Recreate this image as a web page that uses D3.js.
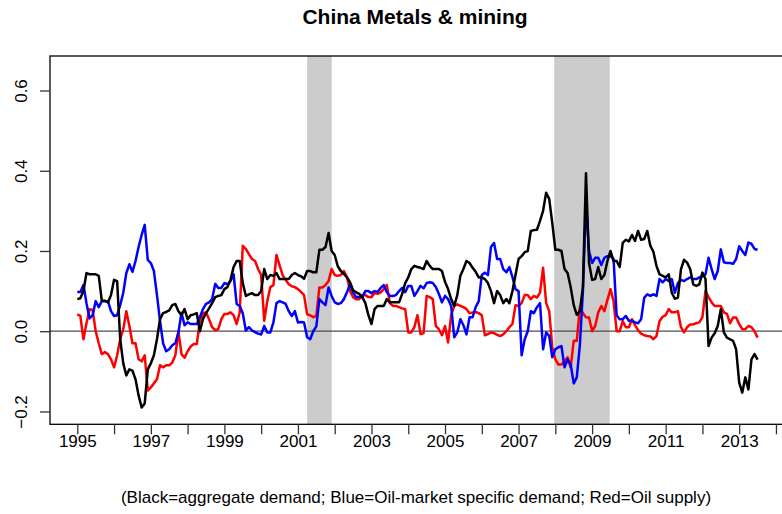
<!DOCTYPE html>
<html>
<head>
<meta charset="utf-8">
<script src="https://cdn.jsdelivr.net/npm/d3@7"></script>
<style>
  body { margin: 0; background: #fff; }
  text { font-family: "Liberation Sans", Arial, sans-serif; }
</style>
</head>
<body>
<svg id="chart"></svg>
<script>
// monthly series, Jan 1995 .. Jul 2013
var startYear = 1995;

var aggDemand = [
  0.08, 0.082, 0.10, 0.145, 0.142, 0.142, 0.142, 0.138, 0.076, 0.076,
  0.072, 0.09, 0.128, 0.125, -0.02, -0.08, -0.11, -0.095, -0.098, -0.12,
  -0.16, -0.19, -0.18, -0.095, -0.08, -0.06, -0.02, 0.03, 0.045, 0.048,
  0.052, 0.065, 0.068, 0.05, 0.04, 0.055, 0.03, 0.04, 0.042, 0.045,
  0.0, 0.03, 0.045, 0.057, 0.07, 0.085, 0.088, 0.09, 0.105, 0.11,
  0.128, 0.16, 0.175, 0.175, 0.12, 0.088, 0.092, 0.095, 0.09, 0.09,
  0.1, 0.155, 0.13, 0.14, 0.138, 0.145, 0.13, 0.13, 0.13, 0.13,
  0.14, 0.145, 0.14, 0.137, 0.131, 0.15, 0.15, 0.147, 0.147, 0.203,
  0.203, 0.21, 0.245, 0.2, 0.19, 0.162, 0.15, 0.143, 0.134, 0.122,
  0.102, 0.097, 0.093, 0.085, 0.07, 0.04, 0.018, 0.055, 0.063, 0.063,
  0.063, 0.08, 0.072, 0.072, 0.072, 0.072, 0.093, 0.12, 0.134, 0.155,
  0.163, 0.16, 0.158, 0.155, 0.175, 0.163, 0.155, 0.155, 0.155, 0.15,
  0.123, 0.105, 0.08, 0.063, 0.09, 0.138, 0.155, 0.175, 0.17, 0.158,
  0.148, 0.134, 0.134, 0.13, 0.12, 0.10, 0.07, 0.10, 0.09, 0.07,
  0.08, 0.07, 0.10, 0.14, 0.18, 0.187, 0.197, 0.20, 0.25, 0.252,
  0.253, 0.275, 0.3, 0.345, 0.33, 0.27, 0.203, 0.203, 0.2, 0.155,
  0.145, 0.11, 0.065, 0.041, 0.05, 0.11, 0.394, 0.17, 0.128, 0.13,
  0.16, 0.13, 0.14, 0.175, 0.2, 0.175, 0.175, 0.16, 0.22, 0.228,
  0.224, 0.24, 0.225, 0.25, 0.228, 0.23, 0.25, 0.213, 0.198, 0.163,
  0.142, 0.138, 0.134, 0.142, 0.096, 0.081, 0.084, 0.155, 0.178, 0.171,
  0.155, 0.117, 0.113, 0.117, 0.146, 0.13, -0.037, -0.016, -0.005, 0.013,
  0.055, -0.003, -0.016, -0.02, -0.024, -0.045, -0.128, -0.153, -0.115, -0.145,
  -0.07, -0.057, -0.071
];

var oilDemand = [
  0.098, 0.098, 0.115, 0.07, 0.032, 0.04, 0.075, 0.06, 0.075, 0.075,
  0.075, 0.05, 0.038, 0.04, 0.065, 0.096, 0.145, 0.167, 0.148, 0.175,
  0.21, 0.24, 0.265, 0.178, 0.17, 0.15, 0.09, 0.025, -0.03, -0.05,
  -0.045, -0.035, -0.03, -0.003, 0.046, 0.015, 0.022, 0.018, 0.018, 0.018,
  0.035, 0.055, 0.068, 0.072, 0.08, 0.118, 0.108, 0.108, 0.12, 0.117,
  0.125, 0.142, 0.068, 0.063, 0.045, 0.002, 0.01, 0.002, -0.002, -0.006,
  -0.008, 0.013, -0.003, -0.003, 0.022, 0.07, 0.075, 0.072, 0.068, 0.05,
  0.038, 0.05, 0.022, 0.023, 0.022, -0.015, -0.02, 0.0, 0.012, 0.08,
  0.072, 0.065, 0.109, 0.088, 0.072, 0.068, 0.07, 0.08, 0.097, 0.117,
  0.097, 0.085, 0.085, 0.085, 0.1, 0.1, 0.095, 0.1, 0.098, 0.108,
  0.115, 0.097, 0.088, 0.088, 0.09, 0.1, 0.108, 0.097, 0.113, 0.113,
  0.088, 0.1, 0.113, 0.107, 0.12, 0.122, 0.12, 0.11, 0.093, 0.072,
  0.088, 0.08, 0.063, -0.015, -0.003, 0.03, 0.015, -0.008, 0.035, 0.035,
  0.06, 0.075, 0.14, 0.146, 0.14, 0.21, 0.22, 0.18, 0.18, 0.155,
  0.147, 0.16, 0.135, 0.105, 0.1, -0.06, -0.02, 0.0, 0.05, 0.045,
  0.06, 0.07, -0.045, -0.003, -0.012, -0.065, -0.045, -0.04, -0.037, -0.09,
  -0.07, -0.083, -0.13, -0.115, -0.035, 0.1, 0.32, 0.2, 0.17, 0.183,
  0.183, 0.165, 0.183, 0.187, 0.187, 0.18, 0.04, 0.03, 0.03, 0.038,
  0.026, 0.026, 0.022, 0.02, 0.03, 0.083, 0.092, 0.088, 0.092, 0.088,
  0.13, 0.122, 0.13, 0.125, 0.13, 0.096, 0.12, 0.128, 0.125, 0.13,
  0.134, 0.13, 0.13, 0.134, 0.137, 0.142, 0.183, 0.155, 0.13, 0.15,
  0.204, 0.172, 0.17, 0.17, 0.168, 0.18, 0.212, 0.2, 0.19, 0.221,
  0.218, 0.205, 0.203
];

var oilSupply = [
  0.042, 0.038, -0.02, 0.02, 0.055, 0.053, 0.0, -0.03, -0.057, -0.052,
  -0.057, -0.07, -0.09, -0.06, -0.02, 0.005, 0.05, 0.013, -0.03, -0.03,
  -0.07, -0.075, -0.06, -0.148, -0.14, -0.13, -0.12, -0.085, -0.09, -0.085,
  -0.085, -0.078, -0.06, 0.0, -0.057, -0.066, -0.05, -0.038, -0.032, -0.032,
  0.026, 0.045, 0.047, 0.03, 0.01, 0.003, 0.005, 0.03, 0.043, 0.043,
  0.047, 0.04, 0.018, 0.047, 0.213, 0.205, 0.192, 0.18, 0.175, 0.155,
  0.14, 0.026, 0.075, 0.11, 0.115, 0.19, 0.165, 0.14, 0.128, 0.117,
  0.112, 0.11, 0.105, 0.098, 0.09, 0.042, 0.04, 0.035, 0.038, 0.109,
  0.109, 0.115, 0.125, 0.155, 0.14, 0.138, 0.14, 0.15, 0.135, 0.1,
  0.085, 0.08, 0.08, 0.09, 0.09, 0.085, 0.085, 0.095, 0.093, 0.097,
  0.105, 0.115, 0.07, 0.063, 0.063, 0.06, 0.057, 0.055, -0.003, -0.003,
  0.01, 0.04, -0.007, -0.005, 0.088, 0.085, 0.08, 0.013, 0.005, -0.01,
  0.013, -0.028, 0.04, 0.063, 0.067, 0.063, 0.06, 0.055, 0.045, 0.047,
  0.048, 0.045, 0.04, -0.01, -0.007, -0.003, -0.005, -0.009, -0.012, -0.008,
  0.0, 0.01, 0.018, 0.065, 0.063, 0.07, 0.09, 0.09, 0.08, 0.088,
  0.084, 0.096, 0.158, 0.07, 0.05, -0.04, -0.07, -0.083, -0.083, -0.075,
  -0.065, -0.09, -0.024, -0.024, 0.06, 0.045, 0.035, 0.034, 0.0, 0.013,
  0.047, 0.063, 0.05, 0.078, 0.105, 0.075, 0.0, 0.0, 0.025, 0.01,
  0.01, 0.03, 0.015, 0.002, -0.006, -0.01, -0.012, -0.013, -0.02, -0.012,
  0.025, 0.036, 0.04, 0.055, 0.047, 0.047, 0.05, 0.01, -0.003, 0.01,
  0.017, 0.017, 0.02, 0.022, 0.035, 0.1, 0.085, 0.072, 0.063, 0.063,
  0.063, 0.047, 0.043, 0.02, 0.034, 0.034, 0.018, 0.005, 0.005, 0.013,
  0.01, 0.0, -0.016
];

// shaded recessions (decimal years)
var recessions = [[2001.25, 2001.92], [2007.97, 2009.48]];

var yTicks = [-0.2, 0, 0.2, 0.4, 0.6];
var xTickYears = d3.range(1995, 2015);
var xLabelYears = d3.range(1995, 2015, 2);

var width = 782,
    height = 514;

var svg = d3.select("#chart")
    .attr("width", width)
    .attr("height", height);

// plot region
var x = d3.scaleLinear().domain([1994.2576, 2014.30]).range([50, 787]);
var y = d3.scaleLinear().domain([-0.232, 0.686]).range([424.3, 56]);

var t = function(i){ return startYear + i / 12; };

svg.append("defs").append("clipPath").attr("id", "clip")
    .append("rect")
    .attr("x", 50).attr("y", 56)
    .attr("width", 737).attr("height", 368.3);

// grey bands
svg.selectAll(".band")
    .data(recessions)
    .enter().append("rect")
    .attr("class", "band")
    .attr("x", function(d){ return x(d[0]); })
    .attr("width", function(d){ return x(d[1]) - x(d[0]); })
    .attr("y", y.range()[1])
    .attr("height", y.range()[0] - y.range()[1])
    .attr("fill", "#cccccc");

// zero line
svg.append("line")
    .attr("x1", 50).attr("x2", 787)
    .attr("y1", y(0)).attr("y2", y(0))
    .attr("stroke", "#4d4d4d")
    .attr("stroke-width", 1.2);

var line = d3.line()
    .x(function(d, i){ return x(t(i)); })
    .y(function(d){ return y(d); });

var series = [
    {vals: aggDemand, color: "#000000"},
    {vals: oilDemand, color: "#0000ff"},
    {vals: oilSupply, color: "#ff0000"}
];

// draw black last so it sits on top like the original
[series[2], series[1], series[0]].forEach(function(s){
    svg.append("path")
        .datum(s.vals)
        .attr("d", line)
        .attr("clip-path", "url(#clip)")
        .attr("fill", "none")
        .attr("stroke", s.color)
        .attr("stroke-width", 2.5)
        .attr("stroke-linejoin", "round");
});

// box
svg.append("rect")
    .attr("x", 50).attr("y", 56)
    .attr("width", 737).attr("height", 368.3)
    .attr("fill", "none")
    .attr("stroke", "#000")
    .attr("stroke-width", 1.3);

// x axis
var xAxis = d3.axisBottom(x)
    .tickValues(xTickYears)
    .tickSize(10)
    .tickPadding(1)
    .tickFormat(function(d){ return xLabelYears.indexOf(d) >= 0 ? d : ""; });

var gx = svg.append("g")
    .attr("transform", "translate(0," + 424.3 + ")")
    .call(xAxis);
gx.select(".domain").remove();
gx.selectAll(".tick line").attr("stroke", "#333").attr("stroke-width", 1.3);
gx.selectAll(".tick text")
    .attr("font-family", "Liberation Sans, Arial, sans-serif")
    .attr("font-size", 17)
    .attr("fill", "#000");

// y axis
var yAxis = d3.axisLeft(y)
    .tickValues(yTicks)
    .tickSize(10)
    .tickFormat(d3.format(".1f"));

var gy = svg.append("g")
    .attr("transform", "translate(50,0)")
    .call(yAxis);
gy.select(".domain").remove();
gy.selectAll(".tick line").attr("stroke", "#333").attr("stroke-width", 1.3);
gy.selectAll(".tick text")
    .attr("font-family", "Liberation Sans, Arial, sans-serif")
    .attr("font-size", 17)
    .attr("fill", "#000")
    .attr("text-anchor", "middle")
    .attr("dy", null)
    .attr("x", null)
    .attr("transform", "translate(-27,0) rotate(-90)")
    .attr("dominant-baseline", "middle");

// titles
svg.append("text")
    .attr("x", 415).attr("y", 24)
    .attr("text-anchor", "middle")
    .attr("font-size", 21)
    .attr("font-weight", "bold")
    .text("China Metals & mining");

svg.append("text")
    .attr("x", 416).attr("y", 503)
    .attr("text-anchor", "middle")
    .attr("font-size", 17)
    .text("(Black=aggregate demand; Blue=Oil-market specific demand; Red=Oil supply)");
</script>
</body>
</html>
